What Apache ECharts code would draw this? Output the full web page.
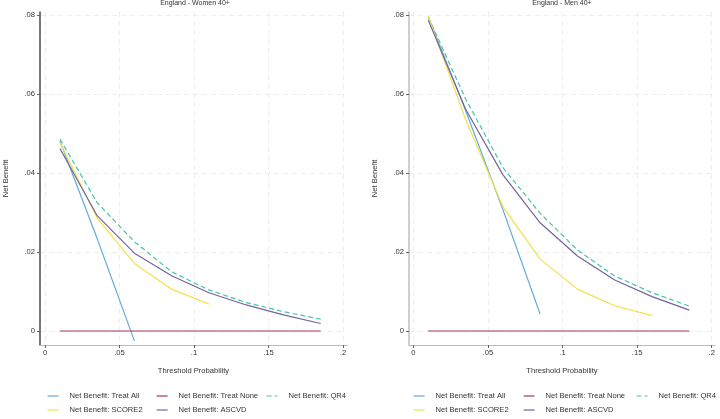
<!DOCTYPE html>
<html>
<head>
    <meta charset="UTF-8">
    <title>decision curves</title>
    <script src="https://cdn.jsdelivr.net/npm/echarts@6/dist/echarts.min.js"></script>
    <style type="text/css">
        body { margin: 0; padding: 0; background: #fff; }
        #main { width: 720px; height: 419px; }
    </style>
</head>
<body>
<div id="main"></div>
<script type="text/javascript">
    // threshold probabilities
    var thresholds = [0.01, 0.035, 0.06, 0.085, 0.11, 0.135, 0.16, 0.185];

    // England - Women 40+
    var treatAllW  = [0.0481, 0.0234, -0.0025];
    var treatNoneW = [0, 0, 0, 0, 0, 0, 0, 0];
    var qr4W       = [0.0486, 0.0325, 0.0226, 0.0150, 0.0104, 0.0072, 0.0049, 0.0030];
    var score2W    = [0.0477, 0.0286, 0.0171, 0.0106, 0.0068];
    var ascvdW     = [0.0462, 0.0292, 0.0197, 0.0140, 0.0097, 0.0066, 0.0041, 0.0019];

    // England - Men 40+
    var treatAllM  = [0.0796, 0.0559, 0.0308, 0.0043];
    var treatNoneM = [0, 0, 0, 0, 0, 0, 0, 0];
    var qr4M       = [0.0795, 0.0588, 0.0414, 0.0298, 0.0205, 0.0139, 0.0097, 0.0063];
    var score2M    = [0.0797, 0.0536, 0.0315, 0.0182, 0.0106, 0.0064, 0.0039];
    var ascvdM     = [0.0787, 0.0562, 0.0396, 0.0274, 0.0190, 0.0129, 0.0087, 0.0053];

    var xTicks = [0, 0.05, 0.1, 0.15, 0.2];
    var yTicks = [0, 0.02, 0.04, 0.06, 0.08];

    var names = ['Net Benefit: Treat All', 'Net Benefit: Treat None', 'Net Benefit: QR4',
                 'Net Benefit: SCORE2', 'Net Benefit: ASCVD'];
    var colors = ['#62a9de', '#a9345f', '#45c6a6', '#f2e14c', '#73649f'];

    var FONT = 'Liberation Sans, Arial, sans-serif';

    function pairs(vals) {
        return vals.map(function (v, i) { return [thresholds[i], v]; });
    }

    function fmt(v) {
        if (v === 0) return '0';
        return String(+v.toFixed(3)).replace(/^0\./, '.');
    }

    function xAxisFor(gi, min, max) {
        return {
            type: 'value', gridIndex: gi, min: min, max: max,
            name: 'Threshold Probability', nameLocation: 'middle', nameGap: 22,
            nameTextStyle: { fontSize: 7.6, color: '#333', fontFamily: FONT },
            axisLine: { show: true, onZero: false, lineStyle: { color: '#bdbdbd', width: 1.2 } },
            axisTick: { show: true, inside: false, length: 3, customValues: xTicks, lineStyle: { color: '#666' } },
            axisLabel: { customValues: xTicks, formatter: fmt, fontSize: 7.6, color: '#333', fontFamily: FONT, margin: 4 },
            splitLine: { show: true, lineStyle: { color: '#e9e9e9', type: [5, 4], width: 0.8 } }
        };
    }

    function yAxisFor(gi, lineColor) {
        return {
            type: 'value', gridIndex: gi, min: -0.00354, max: 0.08076,
            name: 'Net Benefit', nameLocation: 'middle', nameGap: 30, nameRotate: 90,
            nameTextStyle: { fontSize: 7.6, color: '#333', fontFamily: FONT },
            axisLine: { show: true, onZero: false, lineStyle: { color: lineColor, width: 1.6 } },
            axisTick: { show: true, inside: false, length: 3, customValues: yTicks, lineStyle: { color: '#666' } },
            axisLabel: { customValues: yTicks, formatter: fmt, fontSize: 7.6, color: '#333', fontFamily: FONT, margin: 5 },
            splitLine: { show: true, lineStyle: { color: '#e9e9e9', type: [5, 4], width: 0.8 } }
        };
    }

    function lineSeries(idx, gi, vals) {
        return {
            name: names[idx], type: 'line', xAxisIndex: gi, yAxisIndex: gi,
            data: pairs(vals), symbol: 'none', silent: true, animation: false,
            lineStyle: { color: colors[idx], width: 1.2, type: idx === 2 ? [5, 3] : 'solid' },
            itemStyle: { color: colors[idx] }
        };
    }

    // legend item positions (left edge of sample line), per panel
    var legendLefts = [[47, 156, 266, 47, 156], [413, 523, 636, 413, 523]];
    var legendTops = [392, 392, 392, 406, 406];
    var legends = [];
    legendLefts.forEach(function (row) {
        row.forEach(function (lx, i) {
            legends.push({
                data: [names[i]], left: lx, top: legendTops[i], padding: 0,
                itemWidth: 11, itemHeight: 10, selectedMode: false,
                itemStyle: { opacity: 0, borderWidth: 0 },
                lineStyle: { width: 1.2 },
                textStyle: { fontSize: 7.6, color: '#333', fontFamily: FONT, padding: [0, 0, 0, 6] }
            });
        });
    });

    var chart = echarts.init(document.getElementById('main'));
    chart.setOption({
        backgroundColor: '#fff',
        animation: false,
        title: [
            { text: 'England - Women 40+', left: 195, top: 0, padding: 0, textAlign: 'center',
              textStyle: { fontSize: 7, fontWeight: 'normal', color: '#333', fontFamily: FONT } },
            { text: 'England - Men 40+', left: 562, top: 0, padding: 0, textAlign: 'center',
              textStyle: { fontSize: 7, fontWeight: 'normal', color: '#333', fontFamily: FONT } }
        ],
        legend: legends,
        grid: [
            { left: 40, top: 12, width: 307, height: 333 },
            { left: 409, top: 12, width: 306, height: 333 }
        ],
        xAxis: [xAxisFor(0, -0.00336, 0.20268), xAxisFor(1, -0.00288, 0.2022)],
        yAxis: [yAxisFor(0, '#555555'), yAxisFor(1, '#c4c4c4')],
        series: [
            lineSeries(0, 0, treatAllW),
            lineSeries(1, 0, treatNoneW),
            lineSeries(2, 0, qr4W),
            lineSeries(3, 0, score2W),
            lineSeries(4, 0, ascvdW),
            lineSeries(0, 1, treatAllM),
            lineSeries(1, 1, treatNoneM),
            lineSeries(2, 1, qr4M),
            lineSeries(3, 1, score2M),
            lineSeries(4, 1, ascvdM)
        ]
    });
</script>
</body>
</html>
